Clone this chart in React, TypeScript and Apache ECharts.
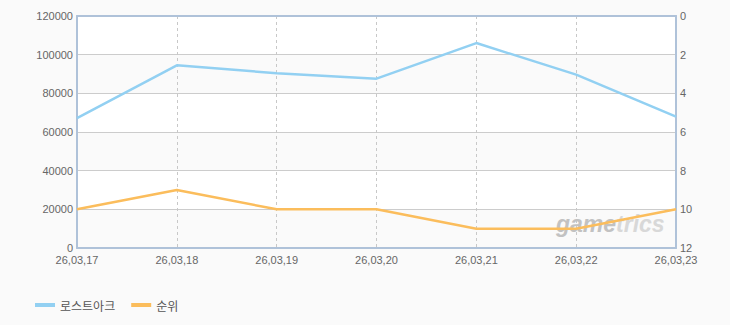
import React, { useEffect, useRef } from "react";
import * as echarts from "echarts";

const categories = ["26,03,17", "26,03,18", "26,03,19", "26,03,20", "26,03,21", "26,03,22", "26,03,23"];
const lostArkValues = [67200, 94500, 90400, 87600, 106000, 89700, 68000];
const rankValues = [10, 9, 10, 10, 11, 11, 10];
const seriesNames = ["로스트아크", "순위"];

const FONT = "'Liberation Sans', Arial, 'Noto Sans CJK KR', sans-serif";
const FRAME = { show: true, lineStyle: { color: "#afc2d9", width: 2 } };

export default function App() {
  const ref = useRef<HTMLDivElement>(null);
  useEffect(() => {
    if (!ref.current) return;
    const chart = echarts.init(ref.current, undefined, { renderer: "svg" });
    chart.setOption({
      animation: false,
      backgroundColor: "#fafafa",
      textStyle: { fontFamily: FONT },
      grid: {
        left: 77,
        right: 54,
        top: 16,
        bottom: 77,
        show: true,
        backgroundColor: "#ffffff",
        borderWidth: 0,
      },
      legend: {
        left: 30,
        top: 294,
        icon: "rect",
        itemWidth: 20,
        itemHeight: 4,
        itemGap: 16,
        textStyle: { fontSize: 12, color: "#555", fontFamily: "'Noto Sans CJK KR', sans-serif" },
        data: seriesNames,
      },
      xAxis: [
        {
          type: "category",
          data: categories,
          boundaryGap: false,
          axisLine: FRAME,
          axisTick: { show: false },
          axisLabel: { color: "#666", fontSize: 11, margin: 6, interval: 0 },
          splitLine: { show: true, lineStyle: { color: "#c8c8c8", type: [3, 3], width: 1 } },
        },
        {
          type: "category",
          data: categories,
          boundaryGap: false,
          position: "top",
          axisLine: FRAME,
          axisTick: { show: false },
          axisLabel: { show: false },
          splitLine: { show: false },
        },
      ],
      yAxis: [
        {
          type: "value",
          min: 0,
          max: 120000,
          interval: 20000,
          axisLine: FRAME,
          axisTick: { show: false },
          axisLabel: { color: "#666", fontSize: 11, margin: 4, formatter: (v: number) => String(v) },
          splitLine: { show: true, lineStyle: { color: "#cccccc", width: 1 } },
          splitArea: { show: true, areaStyle: { color: ["#fafafa", "#ffffff"] } },
        },
        {
          type: "value",
          inverse: true,
          min: 0,
          max: 12,
          interval: 2,
          position: "right",
          axisLine: FRAME,
          axisTick: { show: false },
          axisLabel: { color: "#666", fontSize: 11, margin: 4 },
          splitLine: { show: false },
        },
      ],
      graphic: [
        {
          type: "text",
          left: 556,
          top: 212,
          silent: true,
          z: 1,
          style: {
            text: "{a|game}{b|trics}",
            rich: {
              a: { fontSize: 23, fontWeight: "bold", fontStyle: "italic", fill: "#c2c2c2", fontFamily: "'Liberation Sans', Arial, sans-serif" },
              b: { fontSize: 23, fontWeight: "bold", fontStyle: "italic", fill: "#d8d8d8", fontFamily: "'Liberation Sans', Arial, sans-serif" },
            },
          },
        },
      ],
      series: [
        {
          name: seriesNames[0],
          type: "line",
          xAxisIndex: 0,
          yAxisIndex: 0,
          data: lostArkValues,
          symbol: "none",
          z: 3,
          lineStyle: { color: "#92d0f2", width: 2.5 },
          itemStyle: { color: "#92d0f2" },
        },
        {
          name: seriesNames[1],
          type: "line",
          xAxisIndex: 0,
          yAxisIndex: 1,
          data: rankValues,
          symbol: "none",
          z: 3,
          lineStyle: { color: "#fbbd5c", width: 2.5 },
          itemStyle: { color: "#fbbd5c" },
        },
      ],
    });
    return () => chart.dispose();
  }, []);
  return (
    <div
      ref={ref}
      style={{ position: "fixed", left: 0, top: 0, width: 730, height: 325 }}
    />
  );
}
